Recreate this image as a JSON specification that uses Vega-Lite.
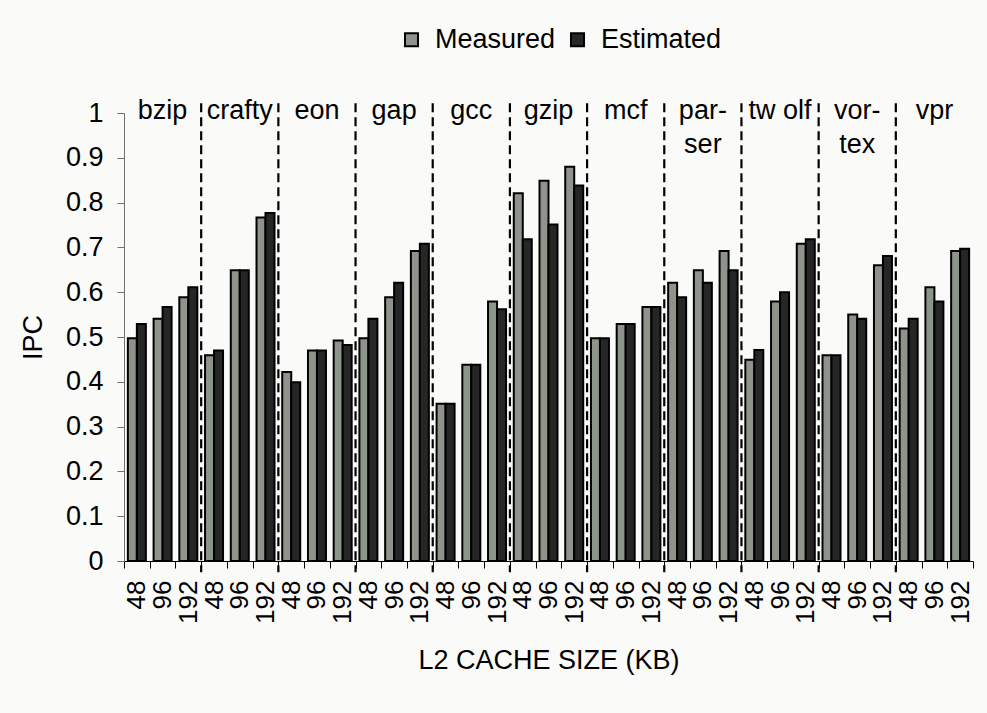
{
  "$schema": "https://vega.github.io/schema/vega-lite/v6.json",
  "autosize": "none",
  "width": 849,
  "height": 448,
  "padding": {"left": 124, "top": 113, "right": 14, "bottom": 152},
  "background": "#fafaf8",
  "config": {
    "view": {"stroke": null},
    "font": "Liberation Sans",
    "axis": {"labelFont": "Liberation Sans", "titleFont": "Liberation Sans", "labelColor": "#000", "titleColor": "#000", "titleFontWeight": "normal", "grid": false}
  },
  "datasets": {
    "bars": [
      {"c": "bzip|48", "series": "Measured", "v": 0.497},
      {"c": "bzip|48", "series": "Estimated", "v": 0.529},
      {"c": "bzip|96", "series": "Measured", "v": 0.541},
      {"c": "bzip|96", "series": "Estimated", "v": 0.567},
      {"c": "bzip|192", "series": "Measured", "v": 0.589},
      {"c": "bzip|192", "series": "Estimated", "v": 0.611},
      {"c": "crafty|48", "series": "Measured", "v": 0.459},
      {"c": "crafty|48", "series": "Estimated", "v": 0.470},
      {"c": "crafty|96", "series": "Measured", "v": 0.649},
      {"c": "crafty|96", "series": "Estimated", "v": 0.649},
      {"c": "crafty|192", "series": "Measured", "v": 0.767},
      {"c": "crafty|192", "series": "Estimated", "v": 0.777},
      {"c": "eon|48", "series": "Measured", "v": 0.422},
      {"c": "eon|48", "series": "Estimated", "v": 0.399},
      {"c": "eon|96", "series": "Measured", "v": 0.470},
      {"c": "eon|96", "series": "Estimated", "v": 0.470},
      {"c": "eon|192", "series": "Measured", "v": 0.492},
      {"c": "eon|192", "series": "Estimated", "v": 0.482},
      {"c": "gap|48", "series": "Measured", "v": 0.497},
      {"c": "gap|48", "series": "Estimated", "v": 0.541},
      {"c": "gap|96", "series": "Measured", "v": 0.589},
      {"c": "gap|96", "series": "Estimated", "v": 0.621},
      {"c": "gap|192", "series": "Measured", "v": 0.692},
      {"c": "gap|192", "series": "Estimated", "v": 0.708},
      {"c": "gcc|48", "series": "Measured", "v": 0.351},
      {"c": "gcc|48", "series": "Estimated", "v": 0.351},
      {"c": "gcc|96", "series": "Measured", "v": 0.438},
      {"c": "gcc|96", "series": "Estimated", "v": 0.438},
      {"c": "gcc|192", "series": "Measured", "v": 0.579},
      {"c": "gcc|192", "series": "Estimated", "v": 0.562},
      {"c": "gzip|48", "series": "Measured", "v": 0.821},
      {"c": "gzip|48", "series": "Estimated", "v": 0.718},
      {"c": "gzip|96", "series": "Measured", "v": 0.849},
      {"c": "gzip|96", "series": "Estimated", "v": 0.751},
      {"c": "gzip|192", "series": "Measured", "v": 0.880},
      {"c": "gzip|192", "series": "Estimated", "v": 0.838},
      {"c": "mcf|48", "series": "Measured", "v": 0.497},
      {"c": "mcf|48", "series": "Estimated", "v": 0.497},
      {"c": "mcf|96", "series": "Measured", "v": 0.529},
      {"c": "mcf|96", "series": "Estimated", "v": 0.529},
      {"c": "mcf|192", "series": "Measured", "v": 0.567},
      {"c": "mcf|192", "series": "Estimated", "v": 0.567},
      {"c": "parser|48", "series": "Measured", "v": 0.621},
      {"c": "parser|48", "series": "Estimated", "v": 0.589},
      {"c": "parser|96", "series": "Measured", "v": 0.649},
      {"c": "parser|96", "series": "Estimated", "v": 0.621},
      {"c": "parser|192", "series": "Measured", "v": 0.692},
      {"c": "parser|192", "series": "Estimated", "v": 0.649},
      {"c": "twolf|48", "series": "Measured", "v": 0.449},
      {"c": "twolf|48", "series": "Estimated", "v": 0.471},
      {"c": "twolf|96", "series": "Measured", "v": 0.579},
      {"c": "twolf|96", "series": "Estimated", "v": 0.600},
      {"c": "twolf|192", "series": "Measured", "v": 0.708},
      {"c": "twolf|192", "series": "Estimated", "v": 0.718},
      {"c": "vortex|48", "series": "Measured", "v": 0.459},
      {"c": "vortex|48", "series": "Estimated", "v": 0.459},
      {"c": "vortex|96", "series": "Measured", "v": 0.550},
      {"c": "vortex|96", "series": "Estimated", "v": 0.541},
      {"c": "vortex|192", "series": "Measured", "v": 0.660},
      {"c": "vortex|192", "series": "Estimated", "v": 0.681},
      {"c": "vpr|48", "series": "Measured", "v": 0.519},
      {"c": "vpr|48", "series": "Estimated", "v": 0.541},
      {"c": "vpr|96", "series": "Measured", "v": 0.611},
      {"c": "vpr|96", "series": "Estimated", "v": 0.579},
      {"c": "vpr|192", "series": "Measured", "v": 0.692},
      {"c": "vpr|192", "series": "Estimated", "v": 0.697}
    ],
    "seps": [
      {"c": "crafty|48"}, {"c": "eon|48"}, {"c": "gap|48"}, {"c": "gcc|48"}, {"c": "gzip|48"},
      {"c": "mcf|48"}, {"c": "parser|48"}, {"c": "twolf|48"}, {"c": "vortex|48"}, {"c": "vpr|48"}
    ],
    "labels": [
      {"c": "bzip|96", "lab": "bzip"},
      {"c": "crafty|96", "lab": "crafty"},
      {"c": "eon|96", "lab": "eon"},
      {"c": "gap|96", "lab": "gap"},
      {"c": "gcc|96", "lab": "gcc"},
      {"c": "gzip|96", "lab": "gzip"},
      {"c": "mcf|96", "lab": "mcf"},
      {"c": "parser|96", "lab": "par-\nser"},
      {"c": "twolf|96", "lab": "tw olf"},
      {"c": "vortex|96", "lab": "vor-\ntex"},
      {"c": "vpr|96", "lab": "vpr"}
    ]
  },
  "layer": [
    {
      "data": {"name": "bars"},
      "mark": {"type": "bar", "stroke": "#000", "strokeWidth": 2},
      "encoding": {
        "x": {
          "field": "c", "type": "nominal",
          "scale": {
            "paddingInner": 0, "paddingOuter": 0,
            "domain": ["bzip|48","bzip|96","bzip|192","crafty|48","crafty|96","crafty|192","eon|48","eon|96","eon|192","gap|48","gap|96","gap|192","gcc|48","gcc|96","gcc|192","gzip|48","gzip|96","gzip|192","mcf|48","mcf|96","mcf|192","parser|48","parser|96","parser|192","twolf|48","twolf|96","twolf|192","vortex|48","vortex|96","vortex|192","vpr|48","vpr|96","vpr|192"]
          },
          "axis": {
            "title": "L2 CACHE SIZE (KB)",
            "titleFontSize": 27,
            "titlePadding": 24,
            "labelExpr": "split(datum.value, '|')[1]",
            "labelAngle": -90,
            "labelFontSize": 26,
            "labelPadding": 12,
            "labelBaseline": "middle",
            "tickBand": "extent",
            "tickSize": 7,
            "tickColor": "#000",
            "domainColor": "#000",
            "domainWidth": 1,
            "labelOverlap": false
          }
        },
        "xOffset": {"field": "series", "type": "nominal", "scale": {"domain": ["Measured", "Estimated"], "paddingInner": 0, "paddingOuter": 0.43}},
        "y": {
          "field": "v", "type": "quantitative",
          "scale": {"domain": [0, 1], "nice": false},
          "axis": {
            "title": "IPC",
            "titleFontSize": 27,
            "titlePadding": 18,
            "values": [0, 0.1, 0.2, 0.3, 0.4, 0.5, 0.6, 0.7, 0.8, 0.9, 1],
            "format": ".1~f",
            "labelFontSize": 27,
            "labelPadding": 14,
            "tickSize": 7,
            "tickColor": "#707070",
            "domainColor": "#707070"
          }
        },
        "color": {
          "field": "series", "type": "nominal",
          "scale": {"domain": ["Measured", "Estimated"], "range": ["#8e938b", "#262626"]},
          "legend": {
            "title": null,
            "orient": "none",
            "direction": "horizontal",
            "legendX": 274,
            "legendY": -87,
            "symbolType": "square",
            "symbolSize": 170,
            "symbolStrokeColor": "#000",
            "symbolStrokeWidth": 2,
            "labelFontSize": 27,
            "labelColor": "#000",
            "labelOffset": 10,
            "columnPadding": 8
          }
        }
      }
    },
    {
      "data": {"name": "seps"},
      "mark": {"type": "rule", "stroke": "#000", "strokeWidth": 2.2, "strokeDash": [9, 5]},
      "encoding": {
        "x": {"field": "c", "type": "nominal", "bandPosition": 0},
        "y": {"datum": 1.022},
        "y2": {"datum": -0.025}
      }
    },
    {
      "data": {"name": "labels"},
      "mark": {"type": "text", "fontSize": 27, "baseline": "alphabetic", "align": "center", "dy": 6, "lineBreak": "\n", "lineHeight": 34, "color": "#000"},
      "encoding": {
        "x": {"field": "c", "type": "nominal"},
        "y": {"datum": 1},
        "text": {"field": "lab"}
      }
    }
  ]
}
